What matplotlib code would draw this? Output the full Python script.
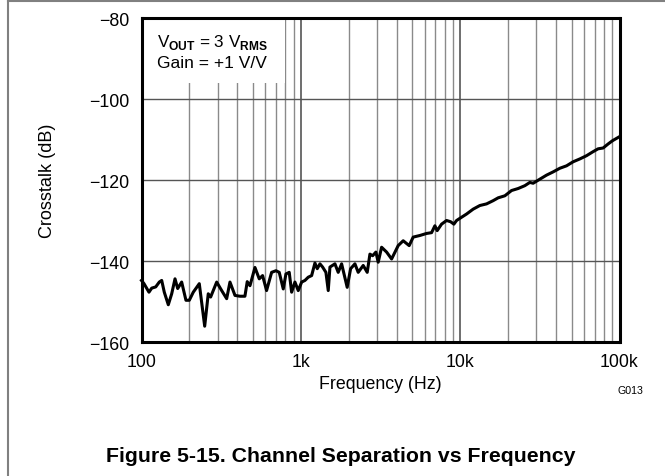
import numpy as np
import matplotlib.pyplot as plt
from matplotlib.patches import Rectangle
from matplotlib.lines import Line2D

plt.rcParams['font.family'] = ['Liberation Sans', 'DejaVu Sans']
plt.rcParams['mathtext.fontset'] = 'custom'
plt.rcParams['mathtext.rm'] = 'Liberation Sans'
plt.rcParams['mathtext.bf'] = 'Liberation Sans:bold'

# crosstalk curve (Hz, dB)
freq_hz = [100, 103.7, 111.4, 115.9, 122.8, 129.3, 133.9, 139.0, 147.3, 154.7,
           162.3, 168.7, 178.7, 190.1, 199.5, 211.3, 230.5, 249.2, 262.4, 271.6,
           296.4, 318.6, 342.4, 359.1, 386.1, 415, 445.7, 460.9, 479.5, 515.3,
           548.3, 575.4, 609.5, 655.6, 698.1, 731.9, 775.6, 806.3, 845.6, 875.5,
           918.3, 963.1, 1012, 1061, 1113, 1169, 1226, 1268, 1318, 1370,
           1437, 1486, 1523, 1637, 1716, 1803, 1954, 2053, 2185, 2291,
           2463, 2610, 2714, 2822, 2959, 3059, 3213, 3454, 3713, 4083,
           4389, 4786, 5072, 5588, 6152, 6616, 6939, 7173, 7643, 8216,
           8705, 9131, 9493, 10200, 10970, 12060, 13290, 14640, 16110, 17320,
           19070, 21010, 23120, 25460, 27360, 28710, 31620, 34830, 38320, 42220,
           46510, 51170, 56360, 62090, 68310, 73400, 78920, 84840, 90360, 98000,
           100000]
crosstalk_db = [-144.8, -145.6, -147.7, -146.7, -146.4, -145.2, -144.8, -147.7, -150.8, -148.1,
                -144.4, -146.8, -145.2, -149.7, -149.7, -147.7, -145.6, -156.1, -148.1, -148.9,
                -145.2, -147.3, -149.3, -145.2, -148.5, -148.7, -148.7, -145.1, -146.1, -141.6,
                -144.4, -143.6, -147.3, -142.8, -142.4, -142.8, -146.9, -143.2, -142.8, -147.7,
                -145.2, -147.3, -145.2, -144.8, -144.0, -143.6, -140.5, -141.9, -140.7, -141.5,
                -142.8, -147.3, -141.5, -140.7, -142.8, -140.7, -146.5, -141.9, -140.7, -142.8,
                -141.1, -142.8, -138.3, -138.7, -137.8, -140.3, -136.6, -137.8, -139.5, -136.2,
                -135.0, -136.2, -134.1, -133.7, -133.2, -133.0, -131.3, -132.5, -130.9, -130.0,
                -130.3, -130.9, -130.0, -129.2, -128.4, -127.2, -126.3, -125.9, -125.1, -124.4,
                -123.9, -122.6, -122.1, -121.4, -120.6, -120.8, -119.8, -118.8, -118.0, -117.1,
                -116.5, -115.5, -114.8, -114.0, -113.0, -112.3, -112.1, -111.1, -110.3, -109.5,
                -109.3]

x_ticks = [100, 1000, 10000, 100000]
x_tick_labels = ['100', '1k', '10k', '100k']
y_ticks = [-160, -140, -120, -100, -80]
y_tick_labels = ['\u2212160', '\u2212140', '\u2212120', '\u2212100', '\u221280']

fig = plt.figure(figsize=(6.65, 4.77), dpi=100)
ax = fig.add_axes([141.5 / 665, 1 - 343 / 477, 478 / 665, 324 / 477])

ax.set_xscale('log')
ax.set_xlim(100, 100000)
ax.set_ylim(-160, -80)
ax.set_axisbelow(True)

# grid lines
minor = [m * 10 ** d for d in range(2, 5) for m in range(2, 10)]
for f in minor:
    ax.axvline(f, color='#8a8a8a', lw=1.0, zorder=0.5)
for f in x_ticks[1:-1]:
    ax.axvline(f, color='#555555', lw=1.2, zorder=0.5)
for v in y_ticks[1:-1]:
    ax.axhline(v, color='#555555', lw=1.0, zorder=0.5)

# white patch behind the conditions text
ax.add_patch(Rectangle((100, -96), 790 - 100, 16, facecolor='white',
                       edgecolor='none', zorder=1))

ax.plot(freq_hz, crosstalk_db, color='black', lw=2.2, zorder=3, clip_on=False)

ax.set_xticks(x_ticks)
ax.set_xticklabels(x_tick_labels)
ax.xaxis.set_minor_locator(plt.NullLocator())
ax.set_yticks(y_ticks)
ax.set_yticklabels(y_tick_labels)
ax.tick_params(length=0, labelsize=12.8)
ax.tick_params(axis='y', pad=8.5)
ax.tick_params(axis='x', pad=8)
for s in ax.spines.values():
    s.set_linewidth(2.2)

fig.text(380.5 / 665, 1 - 385 / 477, 'Frequency (Hz)', fontsize=12.8, ha='center', va='center')
fig.text(47 / 665, 1 - 181 / 477, 'Crosstalk (dB)', fontsize=13, rotation=90,
         ha='center', va='center')

ax.text(0.033, 0.929, r'V$_{\mathbf{OUT}}$ = 3 V$_{\mathbf{RMS}}$', transform=ax.transAxes,
        fontsize=12.3, va='center', ha='left', zorder=4)
ax.text(0.033, 0.864, 'Gain = +1 V/V', transform=ax.transAxes,
        fontsize=12.5, va='center', ha='left', zorder=4)

fig.text(630.5 / 665, 1 - 391 / 477, 'G013', fontsize=7.7, ha='center', va='center')
fig.text(341 / 665, 1 - 457 / 477, 'Figure 5-15. Channel Separation vs Frequency',
         fontsize=15.3, fontweight='bold', ha='center', va='center')

# page frame lines
fig.add_artist(Line2D([8 / 665, 1], [1 - 1.5 / 477, 1 - 1.5 / 477], color='#808080', lw=1.5))
fig.add_artist(Line2D([8 / 665, 8 / 665], [0, 1 - 1.5 / 477], color='#808080', lw=1.5))

fig.savefig('out.png', dpi=100)
